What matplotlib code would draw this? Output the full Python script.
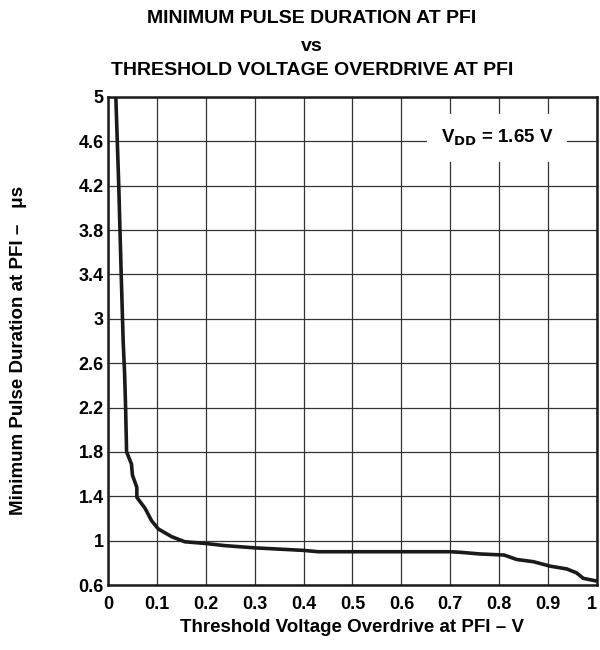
import matplotlib
matplotlib.use("Agg")
import matplotlib.pyplot as plt
import numpy as np

plt.rcParams['font.family'] = ['Liberation Sans', 'DejaVu Sans']
plt.rcParams['font.weight'] = 'bold'

# curve
overdrive = [0.016, 0.022, 0.027, 0.031, 0.034, 0.036, 0.038, 0.048, 0.050, 0.059,
             0.059, 0.076, 0.089, 0.103, 0.130, 0.157, 0.198, 0.239, 0.30, 0.40,
             0.43, 0.70, 0.72, 0.76, 0.81, 0.836, 0.87, 0.904, 0.938, 0.958,
             0.972, 1.0]
pulse = [5.0, 4.2, 3.4, 2.8, 2.5, 2.2, 1.8, 1.69, 1.59, 1.48,
         1.39, 1.29, 1.18, 1.105, 1.036, 0.99, 0.975, 0.955, 0.935, 0.912,
         0.90, 0.90, 0.895, 0.88, 0.87, 0.83, 0.81, 0.77, 0.745, 0.71,
         0.66, 0.635]

xticks = [0, 0.1, 0.2, 0.3, 0.4, 0.5, 0.6, 0.7, 0.8, 0.9, 1]
xtick_labels = ['0', '0.1', '0.2', '0.3', '0.4', '0.5', '0.6', '0.7', '0.8', '0.9', '1']
yticks = [0.6, 1, 1.4, 1.8, 2.2, 2.6, 3, 3.4, 3.8, 4.2, 4.6, 5]
ytick_labels = ['0.6', '1', '1.4', '1.8', '2.2', '2.6', '3', '3.4', '3.8', '4.2', '4.6', '5']

fig = plt.figure(figsize=(6, 6.5), dpi=100)
ax = fig.add_axes([0.18, 0.1, 0.815, 0.7508])

ax.plot(overdrive, pulse, color='#1a1a1a', linewidth=2.6, zorder=3)

ax.set_xlim(0, 1)
ax.set_ylim(0.6, 5)
ax.set_xticks(xticks)
ax.set_xticklabels(xtick_labels)
ax.set_yticks(yticks)
ax.set_yticklabels(ytick_labels)
ax.tick_params(length=0, labelsize=13)
ax.tick_params(axis='x', pad=8)
ax.tick_params(axis='y', pad=3)
# last label sits flush with the right edge, like the reference
ax.get_xticklabels()[-1].set_horizontalalignment('right')
ax.grid(True, color='#333333', linewidth=0.9)
for s in ax.spines.values():
    s.set_linewidth(1.8)
    s.set_color('#1a1a1a')

ax.set_xlabel('Threshold Voltage Overdrive at PFI \u2013 V', fontsize=13.5, fontweight='bold', labelpad=4)
fig.text(0.031, 0.4615, 'Minimum Pulse Duration at PFI \u2013   \u03bcs', rotation=90,
         ha='center', va='center', fontsize=13.5, fontweight='bold')

fig.text(0.52, 0.9715, 'MINIMUM PULSE DURATION AT PFI', ha='center', va='center',
         fontsize=14, fontweight='bold')
fig.text(0.52, 0.929, 'vs', ha='center', va='center', fontsize=14, fontweight='bold')
fig.text(0.52, 0.892, 'THRESHOLD VOLTAGE OVERDRIVE AT PFI', ha='center', va='center',
         fontsize=14, fontweight='bold')

ax.text(0.795, 4.63, r'V$_{\mathbf{DD}}$ = 1.65 V', ha='center', va='center', fontsize=13.5,
        fontweight='bold', zorder=4,
        bbox=dict(facecolor='white', edgecolor='none', pad=10))

fig.savefig('out.png', dpi=100)
